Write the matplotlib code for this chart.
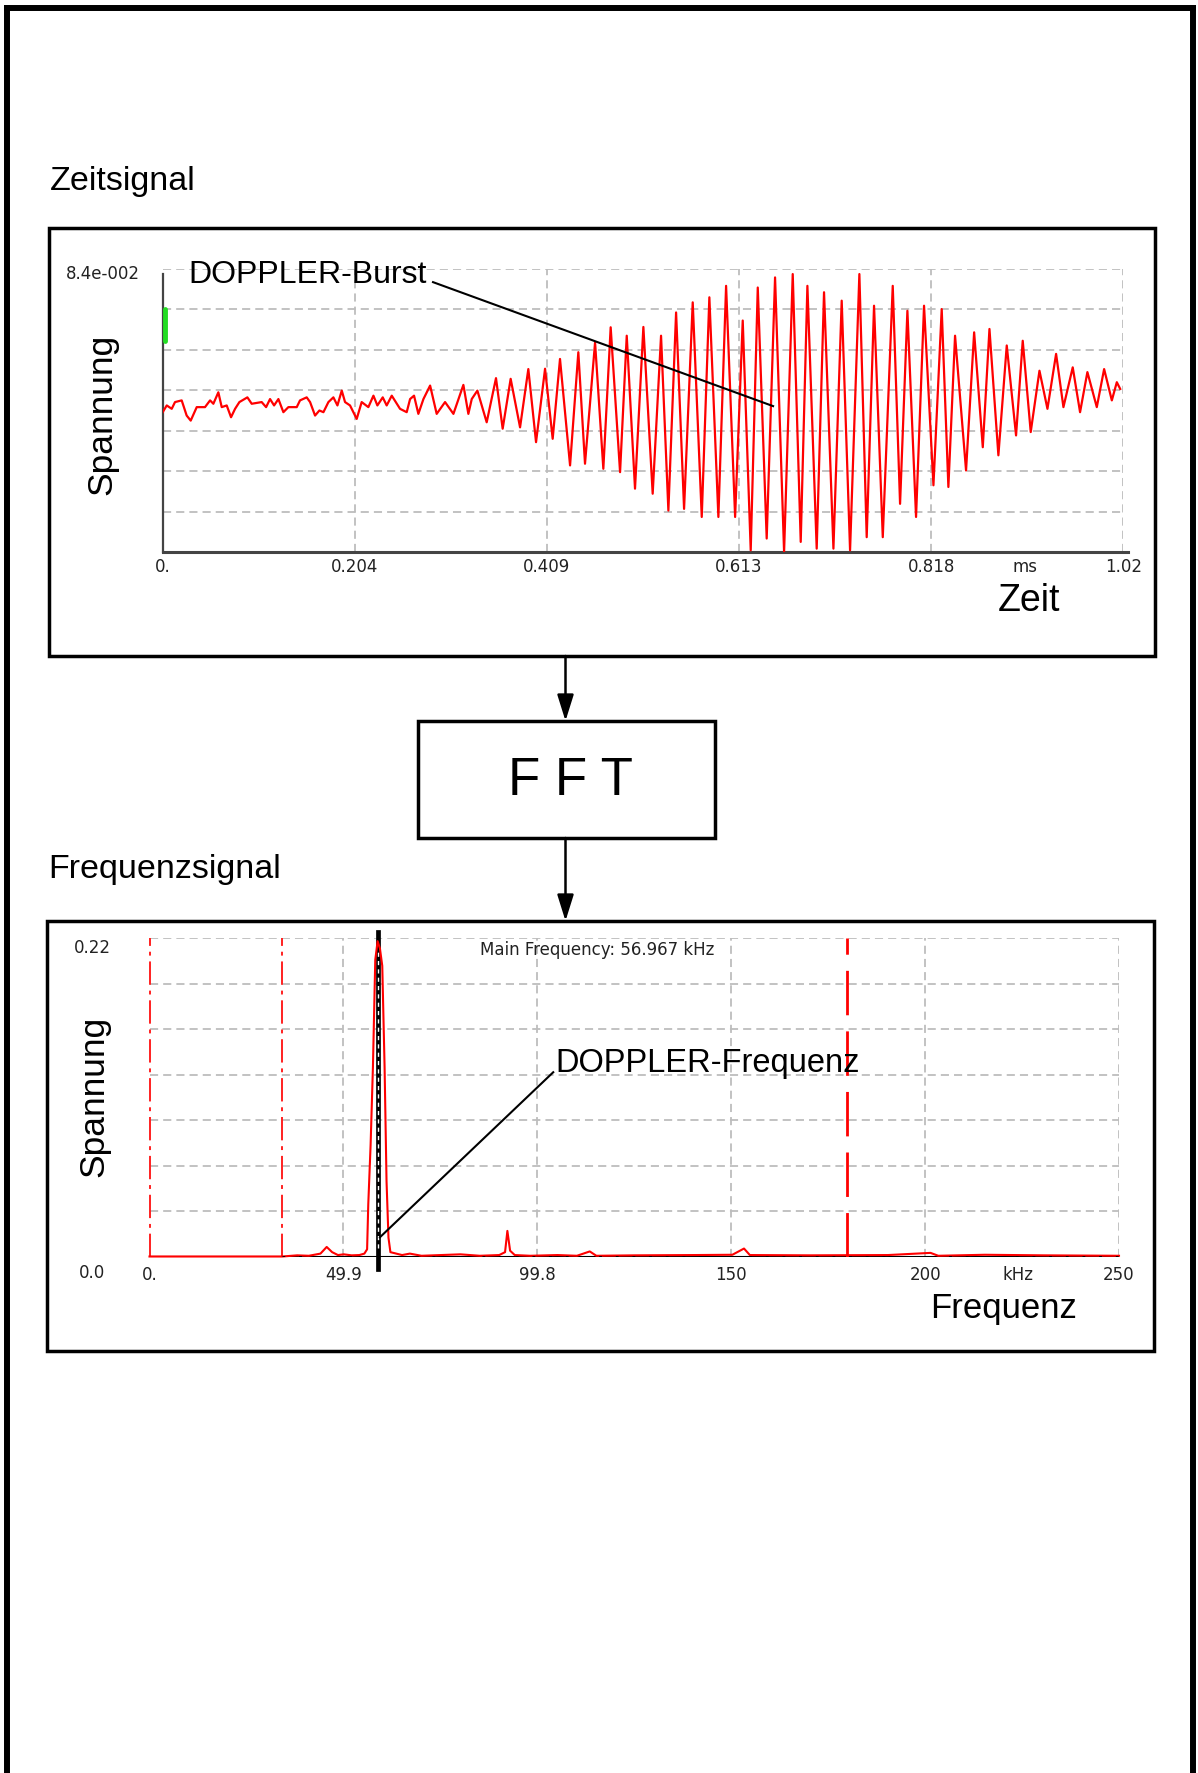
import numpy as np
import matplotlib.pyplot as plt
from matplotlib.patches import Rectangle, FancyArrowPatch
from matplotlib.lines import Line2D

plt.rcParams['font.family'] = ['Liberation Sans', 'DejaVu Sans']

W, H = 1198, 1774

# Zeitsignal (Zeit in ms, Spannung in V)
t_rauschen = [0.0, 0.0043, 0.0096, 0.0131, 0.0202, 0.0255, 0.0298, 0.0362, 0.0450, 0.0504,
              0.0539, 0.0592, 0.0628, 0.0681, 0.0727, 0.0770, 0.0816, 0.0901, 0.0947, 0.1053,
              0.1100, 0.1142, 0.1185, 0.1231, 0.1284, 0.1337, 0.1426, 0.1461, 0.1532, 0.1568,
              0.1621, 0.1667, 0.1710, 0.1763, 0.1816, 0.1859, 0.1905, 0.1940, 0.1993, 0.2064,
              0.2117, 0.2188, 0.2242, 0.2284, 0.2341, 0.2383, 0.2437, 0.2525, 0.2596, 0.2632,
              0.2674, 0.2720, 0.2774, 0.2845, 0.2915, 0.3004, 0.3093, 0.3199, 0.3252, 0.3288,
              0.3348]
u_rauschen = [0.0415, 0.0435, 0.0425, 0.0445, 0.0450, 0.0405, 0.0390, 0.0430, 0.0430, 0.0450,
              0.0440, 0.0474, 0.0430, 0.0435, 0.0400, 0.0425, 0.0445, 0.0459, 0.0440, 0.0445,
              0.0430, 0.0454, 0.0435, 0.0454, 0.0415, 0.0430, 0.0430, 0.0450, 0.0459, 0.0445,
              0.0405, 0.0420, 0.0415, 0.0445, 0.0459, 0.0435, 0.0479, 0.0445, 0.0435, 0.0395,
              0.0445, 0.0430, 0.0464, 0.0435, 0.0459, 0.0435, 0.0464, 0.0425, 0.0415, 0.0454,
              0.0464, 0.0410, 0.0454, 0.0494, 0.0410, 0.0445, 0.0410, 0.0496, 0.0410, 0.0454,
              0.0479]
t_burst = [0.3447, 0.3546, 0.3617, 0.3702, 0.3802, 0.3890, 0.3972, 0.4068, 0.4149, 0.4227,
           0.4334, 0.4422, 0.4493, 0.4600, 0.4688, 0.4766, 0.4866, 0.4937, 0.5025, 0.5114,
           0.5213, 0.5302, 0.5380, 0.5462, 0.5547, 0.5639, 0.5735, 0.5816, 0.5912, 0.5994,
           0.6090, 0.6171, 0.6256, 0.6331, 0.6426, 0.6515, 0.6611, 0.6703, 0.6788,
           0.6859, 0.6958, 0.7036, 0.7136, 0.7224, 0.7313, 0.7412, 0.7490, 0.7568, 0.7661,
           0.7767, 0.7845, 0.7923, 0.8015, 0.8100, 0.8200, 0.8288, 0.8359, 0.8430, 0.8547,
           0.8633, 0.8725, 0.8796, 0.8891, 0.8980, 0.9079, 0.9150, 0.9235, 0.9328, 0.9413,
           0.9505, 0.9583, 0.9682, 0.9760, 0.9838, 0.9938, 1.0016, 1.0098, 1.0151, 1.0187]
u_burst = [0.0385, 0.0516, 0.0366, 0.0514, 0.0370, 0.0543, 0.0326, 0.0544, 0.0336, 0.0573,
           0.0257, 0.0593, 0.0262, 0.0622, 0.0247, 0.0667, 0.0237, 0.0642, 0.0188, 0.0668,
           0.0173, 0.0642, 0.0123, 0.0711, 0.0128, 0.0741, 0.0104, 0.0756, 0.0104, 0.0790,
           0.0104, 0.0687, 0.0005, 0.0785, 0.0040, 0.0815, 0.0, 0.0825, 0.0030,
           0.0790, 0.0010, 0.0771, 0.0010, 0.0746, 0.0005, 0.0825, 0.0044, 0.0731, 0.0044,
           0.0790, 0.0143, 0.0716, 0.0104, 0.0731, 0.0198, 0.0721, 0.0193, 0.0642, 0.0242,
           0.0652, 0.0311, 0.0662, 0.0287, 0.0613, 0.0346, 0.0627, 0.0356, 0.0538, 0.0425,
           0.0588, 0.0430, 0.0548, 0.0415, 0.0534, 0.0430, 0.0543, 0.0450, 0.0504, 0.0484]

# Frequenzsignal (Frequenz in kHz, Spannung in V)
f_khz = [0, 34.2, 38, 41, 44, 45.6, 47, 48.5, 50, 52,
         54, 55.3, 56.0, 56.3, 56.9, 57.5, 58.1, 58.7, 59.3, 59.9,
         60.5, 61.0, 61.5, 62.0, 63.5, 65, 67, 70, 75, 80,
         85, 90, 91.5, 92.1, 92.8, 94, 98, 105, 110, 113.3,
         115, 125, 140, 150, 153, 154.5, 170, 190, 201, 203,
         215, 230, 249.5]
u_fft = [0, 0, 0.0008, 0.0005, 0.002, 0.0066, 0.003, 0.001, 0.0015, 0.0008,
         0.001, 0.002, 0.005, 0.036, 0.077, 0.131, 0.205, 0.218, 0.213, 0.201,
         0.131, 0.052, 0.013, 0.003, 0.002, 0.001, 0.002, 0.0005, 0.001, 0.0015,
         0.0005, 0.001, 0.003, 0.0177, 0.004, 0.001, 0.0005, 0.001, 0.0005, 0.0035,
         0.0005, 0.0008, 0.001, 0.0012, 0.0055, 0.001, 0.0008, 0.001, 0.0025, 0.0005,
         0.0012, 0.0008, 0.0005]

zeit_ticks = [0, 0.2044, 0.4088, 0.6132, 0.8176, 1.022]
zeit_labels = ['0.', '0.204', '0.409', '0.613', '0.818', '1.02']
freq_ticks = [0, 49.9, 99.8, 149.7, 199.6, 249.5]
freq_labels = ['0.', '49.9', '99.8', '150', '200', '250']
zeit_ymax = 0.084
freq_ymax = 0.22
freq_haupt = 58.9          # Lage der schwarzen Markierung
freq_grenzen = [0, 34.2, 179.6]

grid_kw = dict(color='#bdbdbd', lw=1.3, ls=(0, (4.5, 2.8)), zorder=1)
small_kw = dict(fontfamily='DejaVu Sans', fontsize=12, color='#222222')


def fx(x):
    return x / W


def fy(y):
    return 1 - y / H


def kasten(fig, x0, y0, x1, y1, lw=2.5):
    fig.add_artist(Rectangle((fx(x0), fy(y1)), fx(x1) - fx(x0), fy(y0) - fy(y1),
                             transform=fig.transFigure, fill=False, ec='black', lw=lw))


def pfeil(fig, x, y0, y1):
    fig.add_artist(FancyArrowPatch((fx(x), fy(y0)), (fx(x), fy(y1)), transform=fig.transFigure,
                                   arrowstyle='-|>,head_length=0.8,head_width=0.25',
                                   mutation_scale=20, lw=1.8, color='black',
                                   shrinkA=0, shrinkB=0))


def zeitsignal(fig):
    ax = fig.add_axes([fx(162.7), fy(553), (1123.3 - 162.7) / W, (553 - 270) / H])
    ax.set_facecolor('none')
    ax.set_xlim(0, zeit_ticks[-1])
    ax.set_ylim(0, zeit_ymax)
    for k in range(1, 8):
        ax.axhline(k * zeit_ymax / 7, **grid_kw)
    for t in zeit_ticks[1:]:
        ax.axvline(t, **grid_kw)

    for s in ['top', 'right', 'bottom']:
        ax.spines[s].set_visible(False)
    ax.spines['left'].set_bounds(0, 0.0825)
    ax.spines['left'].set_color('#444444')
    ax.spines['left'].set_linewidth(1.6)
    ax.plot([0, 1.027], [0, 0], color='#444444', lw=2.2, clip_on=False, zorder=3)

    ax.plot(t_rauschen + t_burst, u_rauschen + u_burst, color='#ff0000', lw=1.6, zorder=4)
    # gruene Triggermarke
    ax.plot([0.002, 0.002], [0.0627, 0.0721], color='#22dd22', lw=3.5,
            solid_capstyle='round', clip_on=False, zorder=5)

    ax.set_xticks(zeit_ticks + [0.9175], zeit_labels + ['ms'], **small_kw)
    ax.set_yticks([])
    ax.tick_params(axis='x', length=0, pad=3.5)

    ax.text(0.0269, 0.0800, 'DOPPLER-Burst', fontsize=23, ha='left', va='baseline')
    ax.plot([0.2876, 0.6494], [0.0801, 0.0433], color='black', lw=1.5, zorder=6)
    return ax


def frequenzsignal(fig):
    ax = fig.add_axes([fx(149.5), fy(1257.5), (1119 - 149.5) / W, (1257.5 - 939.3) / H])
    ax.set_facecolor('none')
    ax.set_xlim(0, freq_ticks[-1])
    ax.set_ylim(0, freq_ymax)
    for k in range(1, 8):
        ax.axhline(k * freq_ymax / 7, **grid_kw)
    for f in freq_ticks[1:]:
        ax.axvline(f, **grid_kw)
    for s in ax.spines.values():
        s.set_visible(False)

    ax.plot([0, freq_ticks[-1]], [0, 0], color='black', lw=1.5, zorder=2)
    ax.plot([freq_grenzen[0]] * 2, [0, freq_ymax], color='#ff2020', lw=1.4,
            ls=(0, (12, 3, 2, 3)), zorder=2, clip_on=False)
    ax.plot([freq_grenzen[1]] * 2, [0, freq_ymax], color='#ff2020', lw=1.4,
            ls=(0, (12, 3, 2, 3)), zorder=2)
    ax.plot([freq_grenzen[2]] * 2, [0, freq_ymax], color='#ff0000', lw=2.0,
            ls=(0, (16, 5.8)), zorder=2)

    # Markierung der Hauptfrequenz
    ax.plot([freq_haupt] * 2, [-0.0086, 0.2242], color='black', lw=3.4,
            clip_on=False, zorder=3)
    ax.plot([freq_haupt] * 2, [0.006, 0.212], color='white', lw=1.0,
            ls=(0, (3, 3)), zorder=3.5)

    ax.plot(f_khz, u_fft, color='#ff0000', lw=1.5, zorder=4, clip_on=False)
    ax.plot([freq_grenzen[1], freq_ticks[-1]], [0, 0], color='black', lw=2,
            ls=(0, (1, 5)), zorder=5)

    ax.set_xticks(freq_ticks + [223.5], freq_labels + ['kHz'], **small_kw)
    ax.set_yticks([])
    ax.tick_params(axis='x', length=0, pad=6)

    ax.text(104.5, 0.1283, 'DOPPLER-Frequenz', fontsize=23.5, ha='left', va='baseline')
    ax.plot([103.9, 59.3], [0.1274, 0.0133], color='black', lw=1.5, zorder=6)
    return ax


def main():
    fig = plt.figure(figsize=(W / 100, H / 100), dpi=100)

    # Rahmen (links, oben, rechts)
    for xs, ys in [([7, 7], [8.5, H]), ([7, 1192.5], [8.5, 8.5]), ([1192.5, 1192.5], [8.5, H])]:
        fig.add_artist(Line2D([fx(x) for x in xs], [fy(y) for y in ys], color='black',
                              lw=4.3, solid_capstyle='projecting', transform=fig.transFigure))

    kasten(fig, 49, 229, 1155, 657)
    kasten(fig, 47, 922, 1154, 1352)
    kasten(fig, 418, 722, 715, 839)
    pfeil(fig, 565.5, 657, 722)
    pfeil(fig, 565.5, 839, 922)

    zeitsignal(fig)
    frequenzsignal(fig)

    fig.text(fx(49.5), fy(190), 'Zeitsignal', fontsize=24.5, ha='left', va='baseline')
    fig.text(fx(48.5), fy(878), 'Frequenzsignal', fontsize=24.5, ha='left', va='baseline')
    fig.text(fx(570), fy(795), 'F F T', fontsize=38, ha='center', va='baseline')

    fig.text(fx(102), fy(414), 'Spannung', fontsize=25.5, rotation=90, ha='center', va='center')
    fig.text(fx(93.5), fy(1096), 'Spannung', fontsize=25.5, rotation=90, ha='center', va='center')
    fig.text(fx(998), fy(611), 'Zeit', fontsize=27, ha='left', va='baseline')
    fig.text(fx(930), fy(1318), 'Frequenz', fontsize=25, ha='left', va='baseline')

    fig.text(fx(103), fy(279), '8.4e-002', ha='center', va='baseline', **small_kw)
    fig.text(fx(92), fy(953), '0.22', ha='center', va='baseline', **small_kw)
    fig.text(fx(92), fy(1278), '0.0', ha='center', va='baseline', **small_kw)
    fig.text(fx(480), fy(955), 'Main Frequency: 56.967 kHz', ha='left', va='baseline', **small_kw)

    fig.savefig('out.png', dpi=100)


if __name__ == '__main__':
    main()
